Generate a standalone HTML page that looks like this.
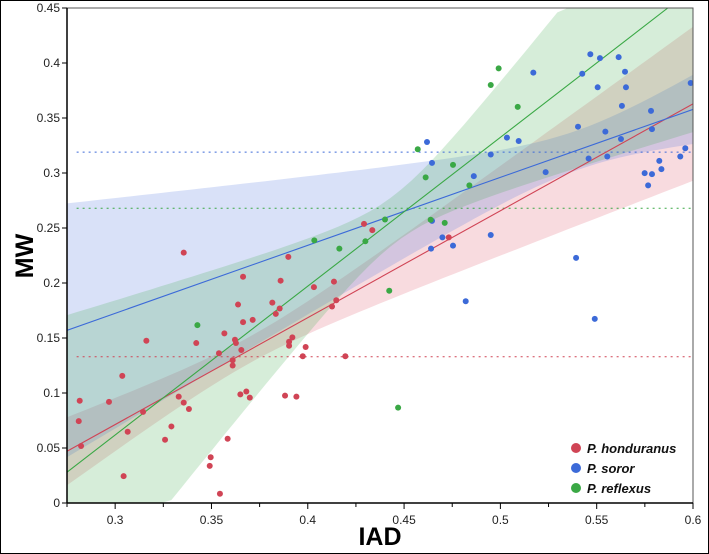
<!DOCTYPE html>
<html><head><meta charset="utf-8">
<style>
html,body{margin:0;padding:0;background:#fff;width:709px;height:554px;overflow:hidden;}
#wrap{width:709px;height:554px;position:relative;overflow:hidden;box-sizing:border-box;border:1px solid #000;}
svg{position:absolute;left:-1px;top:-1px;display:block;overflow:hidden;}
text{font-family:"Liberation Sans",sans-serif;}
</style></head><body>
<div id="wrap">
<svg id="chart" width="709" height="554" viewBox="0 0 709 554"></svg>
</div>
<script>
const speciesNames = ["P. honduranus", "P. soror", "P. reflexus"];
const speciesColors = ["#d04455", "#3c6ad8", "#3aa845"];
const hondX = [0.2816,0.2811,0.2823,0.2968,0.3037,0.3065,0.3044,0.3162,0.3145,0.3356,0.3259,0.3292,0.3330,0.3356,0.3383,0.3421,0.3496,0.3491,0.3544,0.3539,0.3584,0.3567,0.3622,0.3627,0.3655,0.3610,0.3610,0.3638,0.3664,0.3664,0.3714,0.3650,0.3681,0.3699,0.3816,0.3834,0.3854,0.3859,0.3899,0.3903,0.3903,0.3920,0.3882,0.3941,0.3989,0.3974,0.4032,0.4136,0.4126,0.4148,0.4195,0.4292,0.4335,0.4732];
const hondY = [0.093,0.0744,0.0518,0.0919,0.1156,0.0648,0.0244,0.1475,0.0828,0.2276,0.0575,0.0696,0.0967,0.0912,0.0855,0.1454,0.0416,0.0337,0.0084,0.1361,0.0584,0.1542,0.1484,0.1454,0.1391,0.1298,0.125,0.1804,0.2057,0.1644,0.1665,0.0987,0.1014,0.0958,0.1822,0.1719,0.1768,0.2021,0.2238,0.1466,0.143,0.1506,0.0976,0.0967,0.1418,0.1334,0.1963,0.2012,0.1786,0.1843,0.1334,0.2538,0.2481,0.2415];
const sororX = [0.4619,0.4645,0.4645,0.4640,0.4699,0.4754,0.4862,0.4950,0.4950,0.4820,0.5034,0.5095,0.5171,0.5235,0.5403,0.5393,0.5425,0.5467,0.5517,0.5505,0.5458,0.5490,0.5545,0.5555,0.5614,0.5647,0.5652,0.5631,0.5626,0.5782,0.5787,0.5749,0.5787,0.5767,0.5825,0.5836,0.5934,0.5960,0.5988];
const sororY = [0.3282,0.3092,0.2565,0.2313,0.2415,0.234,0.2972,0.3168,0.2436,0.1834,0.3322,0.3291,0.3912,0.3008,0.3421,0.2228,0.3902,0.408,0.4044,0.3779,0.3132,0.1674,0.3376,0.315,0.4053,0.392,0.3779,0.361,0.3309,0.3565,0.3399,0.2999,0.299,0.2888,0.311,0.3035,0.315,0.3225,0.3818];
const reflX = [0.3427,0.4034,0.4164,0.4299,0.4401,0.4423,0.4469,0.4571,0.4612,0.4638,0.4711,0.4754,0.4839,0.4950,0.4991,0.5090];
const reflY = [0.1617,0.2388,0.2313,0.2379,0.2577,0.193,0.0867,0.3216,0.296,0.2575,0.2547,0.3074,0.2888,0.38,0.3951,0.3601];
const fitIntercept = [0.047, 0.157, 0.028];
const fitSlope = [0.972, 0.618, 1.353];
const ciCenter = [0.37, 0.54, 0.445];
const ciMin = [0.012, 0.018, 0.022];
const ciGrowth = [0.30, 0.43, 0.83];
const meanY = [0.133, 0.319, 0.268];
const xTicks = [0.3,0.35,0.4,0.45,0.5,0.55,0.6];
const xTickLabels = ["0.3","0.35","0.4","0.45","0.5","0.55","0.6"];
const yTicks = [0,0.05,0.1,0.15,0.2,0.25,0.3,0.35,0.4,0.45];
const yTickLabels = ["0","0.05","0.1","0.15","0.2","0.25","0.3","0.35","0.4","0.45"];

const L=67,R=693,T=8,B=503,X0=0.275,X1=0.6,Y0=0,Y1=0.45;
const sx=v=>L+(v-X0)/(X1-X0)*(R-L);
const sy=v=>B-(v-Y0)/(Y1-Y0)*(B-T);
const cy=v=>Math.min(B,Math.max(T,sy(v)));
const NS="http://www.w3.org/2000/svg";
const svg=document.getElementById('chart');
function mk(tag,attrs,parent){const e=document.createElementNS(NS,tag);for(const k in attrs)e.setAttribute(k,attrs[k]);(parent||svg).appendChild(e);return e;}

const defs=mk('defs',{});
const cp=mk('clipPath',{id:'plotclip'},defs);
mk('rect',{x:L,y:T,width:R-L,height:B-T},cp);
const plot=mk('g',{'clip-path':'url(#plotclip)'});



const fills=["rgba(222,90,110,0.22)","rgba(80,120,225,0.22)","rgba(70,175,80,0.22)"];
const seriesKeys=["honduranus","soror","reflexus"];
for(let s=0;s<3;s++){
  let up=[],lo=[];
  for(let i=0;i<=60;i++){
    const x=X0+(X1-X0)*i/60;
    const yl=fitIntercept[s]+fitSlope[s]*(x-X0);
    const h=Math.sqrt(ciMin[s]**2+(ciGrowth[s]*(x-ciCenter[s]))**2);
    up.push(sx(x).toFixed(1)+','+cy(yl+h).toFixed(1));
    lo.unshift(sx(x).toFixed(1)+','+cy(yl-h).toFixed(1));
  }
  const p=mk('polygon',{points:up.concat(lo).join(' '),fill:fills[s]},plot);
  
  
}
for(let s=0;s<3;s++){
  const m=mk('line',{x1:sx(0.28),x2:sx(0.6),y1:sy(meanY[s]),y2:sy(meanY[s]),stroke:speciesColors[s],'stroke-width':1,'stroke-dasharray':'2,4'},plot);
  
  
}
for(let s=0;s<3;s++){
  let xe=X1, ye=fitIntercept[s]+fitSlope[s]*(X1-X0);
  if(ye>Y1){xe=X0+(Y1-fitIntercept[s])/fitSlope[s];ye=Y1;}
  const l=mk('line',{x1:sx(X0),x2:sx(xe),y1:sy(fitIntercept[s]),y2:sy(ye),stroke:speciesColors[s],'stroke-width':1.1},plot);
  
  
}
const sets=[[hondX,hondY],[sororX,sororY],[reflX,reflY]];
for(let s=0;s<3;s++){
  const [xs,ys]=sets[s];
  for(let i=0;i<xs.length;i++){
    const c=mk('circle',{cx:sx(xs[i]),cy:sy(ys[i]),r:3,fill:speciesColors[s]},plot);
    
    
  }
}
const fr=mk('rect',{x:L,y:T,width:R-L,height:B-T,fill:'none',stroke:'#555','stroke-width':1});


const xa=mk('line',{x1:L,x2:R,y1:B,y2:B,stroke:'#000','stroke-width':1.5});


const ya=mk('line',{x1:L,x2:L,y1:T,y2:B,stroke:'#000','stroke-width':1.5});


for(let i=0;i<xTicks.length;i++){
  const x=sx(xTicks[i]);
  mk('line',{x1:x,x2:x,y1:B,y2:B+6,stroke:'#000'});
  const t=mk('text',{x:x,y:B+21,'text-anchor':'middle','font-size':12,fill:'#222'});
  t.textContent=xTickLabels[i];
  
  
  if(i<xTicks.length-1){const xm=sx(xTicks[i]+0.025);mk('line',{x1:xm,x2:xm,y1:B,y2:B+4,stroke:'#000'});}
}
mk('line',{x1:sx(0.275),x2:sx(0.275),y1:B,y2:B+4,stroke:'#000'});
for(let i=0;i<yTicks.length;i++){
  const y=sy(yTicks[i]);
  mk('line',{x1:L-5,x2:L,y1:y,y2:y,stroke:'#000'});
  const t=mk('text',{x:L-7,y:y+4,'text-anchor':'end','font-size':12,fill:'#222'});
  t.textContent=yTickLabels[i];
  
  
}
const xt=mk('text',{x:380,y:545,'text-anchor':'middle','font-size':25,'font-weight':'bold'});
xt.textContent='IAD';


const yt=mk('text',{x:0,y:0,'text-anchor':'middle','font-size':25,'font-weight':'bold',transform:'translate(33,256) rotate(-90)'});
yt.textContent='MW';


for(let s=0;s<3;s++){
  const g=mk('g',{});
  
  
  mk('circle',{cx:576,cy:448+s*20,r:5,fill:speciesColors[s]},g);
  const t=mk('text',{x:587,y:453+s*20,'font-size':13,'font-weight':'bold','font-style':'italic',fill:'#111'},g);
  t.textContent=speciesNames[s];
}
</script>
</body></html>
